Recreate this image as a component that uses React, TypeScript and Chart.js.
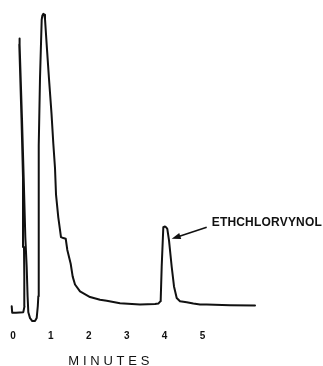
import React, { useEffect, useRef } from "react";
import { Chart, registerables } from "chart.js";

Chart.register(...registerables);

// Retention time (minutes) of the recorder trace
const timeMin: number[] = [
  -0.034, -0.021, 0.079, 0.272, 0.303, 0.298, 0.29, 0.264, 0.224, 0.166, 0.166,
  0.182, 0.237, 0.282, 0.325, 0.361, 0.385, 0.404, 0.449, 0.509, 0.58, 0.625,
  0.654, 0.668, 0.681, 0.681, 0.675, 0.712, 0.757, 0.773, 0.799, 0.826, 0.844,
  0.897, 0.95, 1.016, 1.063, 1.108, 1.135, 1.195, 1.266, 1.327, 1.391, 1.433,
  1.522, 1.575, 1.636, 1.768, 2.032, 2.296, 2.472, 2.823, 3.351, 3.747, 3.834,
  3.887, 3.897, 3.923, 3.966, 4.011, 4.037, 4.071, 4.116, 4.187, 4.248, 4.319,
  4.406, 4.583, 4.757, 4.934, 5.111, 5.726, 6.385,
];
// Detector response (relative units)
const response: number[] = [
  6.06, 4.09, 4.03, 4.24, 6.06, 15.15, 24.24, 45.45, 63.64, 86.36, 88.18,
  86.36, 63.64, 45.45, 27.27, 18.18, 9.09, 4.24, 2.42, 1.52, 1.52, 2.42,
  6.06, 9.09, 24.24, 39.39, 55.45, 75.76, 93.94, 95.15, 95.76, 95.45, 94.24,
  84.85, 75.76, 65.15, 56.06, 48.48, 40.3, 33.33, 27.27, 26.97, 26.76, 23.33,
  19.09, 15.15, 12.73, 10.61, 8.88, 8.03, 7.73, 6.97, 6.58, 6.73, 6.88,
  7.58, 8.09, 18.18, 30.3, 30.52, 30.3, 29.79, 26.27, 18.18, 12.12, 8.58,
  7.58, 7.27, 6.88, 6.58, 6.58, 6.36, 6.27,
];
const tickValues: number[] = [0, 1, 2, 3, 4, 5];
const axisTitle = "MINUTES";
const peakLabel = "ETHCHLORVYNOL";
// annotation anchors in data units
const arrowTip = { x: 4.187, y: 26.76 };
const arrowTail = { x: 5.111, y: 30.3 };

const INK = "#111111";

export default function App() {
  const ref = useRef<HTMLCanvasElement | null>(null);

  useEffect(() => {
    if (!ref.current) return;
    const drawSpaced = (
      ctx: CanvasRenderingContext2D,
      text: string,
      x0: number,
      y: number,
      width: number
    ) => {
      const widths = text.split("").map((c) => ctx.measureText(c).width);
      const total = widths.reduce((a, b) => a + b, 0);
      const gap = (width - total) / (text.length - 1);
      let x = x0;
      text.split("").forEach((c, i) => {
        ctx.fillText(c, x, y);
        x += widths[i] + gap;
      });
    };

    const annot = {
      id: "annot",
      afterDraw(chart: any) {
        const ctx: CanvasRenderingContext2D = chart.ctx;
        const xs = chart.scales.x;
        const ys = chart.scales.y;
        ctx.save();
        // arrow
        const tx = xs.getPixelForValue(arrowTip.x);
        const ty = ys.getPixelForValue(arrowTip.y);
        const sx = xs.getPixelForValue(arrowTail.x);
        const sy = ys.getPixelForValue(arrowTail.y);
        const ang = Math.atan2(ty - sy, tx - sx);
        ctx.strokeStyle = INK;
        ctx.fillStyle = INK;
        ctx.lineWidth = 1.6;
        ctx.beginPath();
        ctx.moveTo(sx, sy);
        ctx.lineTo(tx - Math.cos(ang) * 5, ty - Math.sin(ang) * 5);
        ctx.stroke();
        const L = 9, W = 3.2;
        ctx.beginPath();
        ctx.moveTo(tx, ty);
        ctx.lineTo(
          tx - Math.cos(ang) * L - Math.sin(ang) * W,
          ty - Math.sin(ang) * L + Math.cos(ang) * W
        );
        ctx.lineTo(
          tx - Math.cos(ang) * L + Math.sin(ang) * W,
          ty - Math.sin(ang) * L - Math.cos(ang) * W
        );
        ctx.closePath();
        ctx.fill();
        // peak label
        ctx.font = "bold 12px 'Liberation Sans Narrow', 'Liberation Sans', sans-serif";
        ctx.textBaseline = "alphabetic";
        ctx.textAlign = "left";
        drawSpaced(ctx, peakLabel, sx + 5, sy - 1.5, 110);
        // axis title
        ctx.font = "13px 'Liberation Sans Narrow', 'Liberation Sans', sans-serif";
        const titleLeft = xs.getPixelForValue(1.46);
        drawSpaced(ctx, axisTitle, titleLeft, 365, 81);
        ctx.restore();
      },
    };

    const chart = new Chart(ref.current, {
      type: "scatter",
      data: {
        datasets: [
          {
            data: timeMin.map((t, i) => ({ x: t, y: response[i] })),
            showLine: true,
            borderColor: INK,
            borderWidth: 2,
            pointRadius: 0,
            tension: 0,
            borderJoinStyle: "round",
            borderCapStyle: "round",
          } as any,
        ],
      },
      options: {
        animation: false,
        responsive: true,
        maintainAspectRatio: false,
        layout: { padding: { left: 0, right: 0, top: 0, bottom: 20 } },
        plugins: {
          legend: { display: false },
          tooltip: { enabled: false },
          title: { display: false },
        },
        scales: {
          x: {
            type: "linear",
            min: -0.343,
            max: 8.179,
            grid: { display: false, drawTicks: false },
            border: { display: false },
            afterBuildTicks: (axis: any) => {
              axis.ticks = tickValues.map((v) => ({ value: v }));
            },
            ticks: {
              autoSkip: false,
              maxRotation: 0,
              padding: 4,
              color: INK,
              font: {
                family: "'Liberation Sans Narrow', 'Liberation Sans', sans-serif",
                size: 10,
                weight: "bold",
              },
              callback: (v: any) => String(v),
            },
          },
          y: {
            display: false,
            min: 0,
            max: 100,
          },
        },
      },
      plugins: [annot],
    });
    return () => chart.destroy();
  }, []);

  return (
    <div
      style={{
        position: "fixed",
        left: 0,
        top: 0,
        width: 323,
        height: 366,
        background: "#fff",
      }}
    >
      <canvas ref={ref} />
    </div>
  );
}
